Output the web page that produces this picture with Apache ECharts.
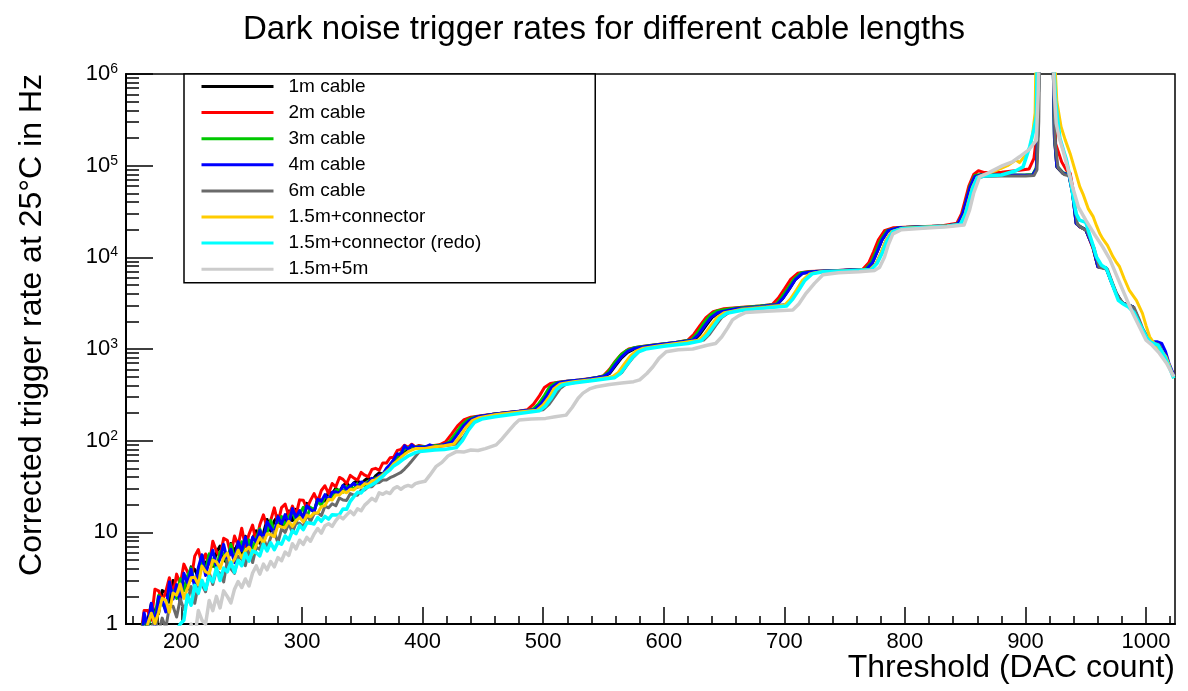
<!DOCTYPE html>
<html>
<head>
<meta charset="utf-8">
<script src="https://cdn.jsdelivr.net/npm/echarts@6/dist/echarts.min.js"></script>
<style>
  html, body { margin: 0; padding: 0; background: #ffffff; }
  #chart { width: 1188px; height: 691px; }
</style>
</head>
<body>
<div id="chart"></div>
<script>
// Dark noise trigger rate vs. threshold, one curve per cable configuration.
const FONT = '"Liberation Sans", Arial, Helvetica, sans-serif';

const seriesNames = ['1m cable', '2m cable', '3m cable', '4m cable', '6m cable',
  '1.5m+connector', '1.5m+connector (redo)', '1.5m+5m'];
const seriesColors = ['#000000', '#ff0000', '#00c800', '#0000ff', '#6a6a6a',
  '#ffcc00', '#00ffff', '#cccccc'];

const chartTitle = 'Dark noise trigger rates for different cable lengths';
const xTitle = 'Threshold (DAC count)';
const yTitle = 'Corrected trigger rate at 25\u00B0C in Hz';

// x tick values
const xMajorTicks = [200, 300, 400, 500, 600, 700, 800, 900, 1000];
const xMinorTicks = [160, 180, 220, 240, 260, 280, 320, 340, 360, 380, 420, 440, 460, 480,
  520, 540, 560, 580, 620, 640, 660, 680, 720, 740, 760, 780, 820, 840, 860, 880,
  920, 940, 960, 980, 1020];
// y minor ticks (2..9 per decade)
const yMinorMultipliers = [2, 3, 4, 5, 6, 7, 8, 9];
const yDecades = [1, 10, 100, 1000, 10000, 100000];

// Noisy low-threshold region, sampled on a common threshold grid
const thresholdLow = [166, 169, 172, 175, 178, 181, 184, 187, 190, 193,
  196, 199, 202, 205, 208, 211, 214, 217, 220, 223,
  226, 229, 232, 235, 238, 241, 244, 247, 250, 253,
  256, 259, 262, 265, 268, 271, 274, 277, 280, 283,
  286, 289, 292, 295, 298, 301, 304, 307, 310, 313,
  316, 319, 322, 325, 328, 331, 334, 337, 340, 343,
  346, 349, 352, 355, 358, 361, 364, 367, 370, 373,
  376, 379, 382, 385, 388, 391, 394, 397];

const rate1mLow = [0.92, 0.79, 1.1, 1.66, 1.3, 1.29, 2.32, 2.2, 1.73, 2.98,
  2.14, 3.06, 2.72, 2.38, 4.2, 3.93, 3.25, 5.62, 4.28, 5.71,
  4.26, 6.06, 7.07, 5.05, 4.62, 7.54, 6.2, 7.75, 5.71, 9.06,
  6.58, 8.6, 10.4, 7.59, 9.78, 13.8, 10.3, 13.3, 15.1, 11.2,
  13.8, 17.1, 13.4, 17.8, 16.0, 14.9, 20.7, 18.0, 16.8, 23.5,
  22.1, 21.9, 27.6, 26.4, 30.3, 27.5, 32.4, 34.6, 30.7, 34.8,
  36.7, 33.5, 37.1, 39.5, 36.7, 41.2, 44.6, 43.2, 48.5, 51.1,
  56.0, 60.0, 68.0, 75.0, 82.0, 86.0, 85.0, 86.0];
const rate2mLow = [0.72, 1.4, 1.4, 1.1, 2.4, 2.3, 1.8, 2.25, 3.2, 2.1,
  3.5, 2.7, 4.5, 3.7, 3.0, 5.5, 6.5, 4.4, 5.8, 4.5,
  8.0, 6.2, 5.4, 8.6, 8.2, 5.7, 9.1, 7.2, 11.1, 7.0,
  9.5, 12.0, 7.8, 12.1, 15.5, 11.3, 13.5, 18.5, 12.6, 18.6,
  20.3, 15.1, 19.3, 15.5, 22.6, 22.4, 18.3, 22.3, 26.4, 21.6,
  28.6, 32.2, 26.6, 34.1, 31.4, 39.7, 37.8, 34.0, 41.8, 39.0,
  37.2, 45.1, 42.0, 40.4, 48.6, 49.9, 47.5, 57.2, 57.0, 65.1,
  66.0, 78.4, 80.0, 89.0, 84.4, 91.5, 85.3, 88.7];
const rate3mLow = [0.79, 1.14, 0.83, 1.44, 1.22, 2.05, 1.68, 1.44, 2.4, 2.29,
  1.9, 3.12, 2.3, 3.36, 4.1, 2.69, 3.6, 4.9, 3.82, 5.82,
  4.72, 3.97, 6.14, 5.81, 4.62, 7.38, 5.26, 6.38, 7.9, 5.25,
  8.26, 6.62, 8.62, 10.9, 7.82, 10.0, 13.5, 10.2, 13.0, 14.9,
  11.7, 14.8, 16.8, 13.1, 15.8, 18.7, 14.6, 18.7, 17.6, 21.5,
  19.8, 24.6, 23.6, 23.1, 29.0, 29.0, 27.4, 31.4, 31.0, 30.0,
  33.6, 32.8, 32.3, 36.1, 36.0, 39.1, 39.2, 43.2, 47.0, 53.0,
  60.0, 67.0, 74.0, 80.0, 84.0, 86.0, 85.0, 87.0];
const rate4mLow = [0.43, 1.32, 0.94, 1.68, 0.95, 1.98, 1.85, 1.35, 2.88, 1.87,
  2.69, 1.68, 3.58, 2.8, 3.95, 2.52, 4.14, 5.68, 3.39, 4.93,
  6.37, 4.22, 5.12, 7.39, 4.9, 6.53, 4.67, 7.9, 6.32, 8.86,
  5.85, 8.83, 7.84, 10.5, 8.28, 13.0, 11.3, 9.66, 14.8, 12.4,
  15.6, 12.1, 18.2, 14.6, 17.3, 14.0, 19.5, 17.8, 16.7, 23.0,
  21.8, 25.8, 22.4, 27.3, 27.7, 26.2, 32.3, 29.6, 31.9, 34.3,
  31.0, 35.4, 34.3, 34.4, 38.9, 37.2, 42.0, 42.4, 50.0, 55.0,
  62.0, 72.0, 70.0, 88.0, 80.0, 90.0, 84.0, 86.0];
const rate6mLow = [0.45, 0.72, 0.52, 0.9, 1.15, 0.81, 1.16, 0.9, 1.56, 1.56,
  1.19, 1.88, 1.44, 1.75, 2.57, 1.68, 2.7, 2.7, 2.25, 3.64,
  2.7, 3.84, 3.57, 2.88, 4.94, 4.0, 3.57, 5.5, 5.06, 4.32,
  6.63, 4.68, 6.9, 6.5, 8.75, 6.75, 8.8, 10.2, 7.65, 10.9,
  10.0, 12.6, 9.9, 12.65, 12.6, 11.3, 15.8, 13.1, 16.0, 16.3,
  15.2, 19.3, 18.5, 20.5, 19.5, 23.7, 22.5, 22.3, 26.5, 25.5,
  25.4, 28.9, 29.0, 31.7, 31.4, 34.5, 35.0, 37.2, 37.2, 39.5,
  41.0, 43.0, 45.0, 49.0, 54.0, 60.0, 67.0, 75.0];
const rateConnLow = [0.82, 0.69, 1.0, 1.31, 1.01, 1.33, 1.91, 1.81, 1.34, 2.18,
  2.06, 2.73, 1.9, 2.45, 3.19, 3.23, 2.68, 4.29, 3.71, 3.53,
  4.96, 4.77, 4.03, 5.31, 5.95, 4.47, 5.11, 6.38, 5.25, 6.31,
  6.92, 5.8, 7.2, 8.82, 7.65, 9.63, 9.45, 8.95, 11.9, 11.4,
  11.3, 13.2, 11.6, 13.4, 14.5, 13.0, 15.3, 14.8, 16.3, 16.3,
  19.1, 19.6, 23.0, 22.5, 25.5, 25.5, 28.0, 27.0, 29.5, 29.0,
  31.5, 31.0, 34.0, 33.5, 36.5, 37.5, 40.0, 42.5, 46.0, 50.0,
  56.0, 60.0, 66.0, 71.0, 76.0, 79.0, 82.0, 82.0];
const rateConnRedoLow = [0.4, 0.45, 0.5, 0.55, 0.6, 0.65, 0.7, 0.8, 0.75, 0.9,
  0.85, 1.0, 1.1, 2.07, 1.6, 2.64, 2.16, 2.99, 2.38, 3.3,
  2.88, 4.08, 2.98, 4.07, 3.71, 4.72, 3.66, 4.95, 4.32, 5.87,
  4.86, 6.27, 6.0, 5.54, 7.39, 6.26, 7.7, 6.48, 7.77, 7.41,
  9.13, 8.28, 10.4, 9.69, 11.9, 10.7, 12.7, 12.6, 12.35, 14.5,
  13.2, 14.9, 13.9, 15.6, 15.5, 15.6, 18.0, 17.9, 21.8, 24.5,
  27.3, 26.9, 30.0, 31.5, 33.0, 35.0, 38.0, 41.0, 45.0, 48.0,
  53.0, 56.0, 60.0, 64.0, 68.0, 71.0, 74.0, 76.0];
const rate15m5mLow = [null, null, null, null, null, null, null, null, null, null,
  null, null, null, 0.5, 1.0, 0.7, 1.4, 1.1, 1.0, 1.8,
  1.4, 2.0, 1.5, 2.3, 2.0, 1.7, 2.4, 2.9, 2.5, 3.1,
  2.6, 3.6, 4.3, 3.5, 4.5, 3.9, 4.8, 4.2, 5.3, 4.9,
  6.1, 5.6, 7.5, 6.6, 8.2, 7.4, 8.8, 8.0, 9.6, 11.0,
  9.8, 11.8, 12.4, 11.6, 13.4, 15.0, 14.0, 15.5, 17.0, 15.6,
  18.0, 17.2, 19.8, 21.5, 23.5, 22.0, 27.0, 26.0, 27.5, 26.5,
  30.0, 31.5, 29.5, 31.5, 32.5, 31.5, 34.0, 35.0];

// Staircase region and the pulse peak, as [threshold, rate] pairs
const rate1mHigh = [[402, 84], [410, 87], [418, 90], [423, 96], [428, 118], [433, 145], [438, 168], [444, 180],
  [460, 195], [480, 208], [492, 218], [497, 250], [502, 310], [506, 380], [511, 420], [520, 440], [535, 460],
  [550, 500], [555, 540], [560, 660], [565, 800], [570, 920], [576, 1010], [590, 1080], [610, 1170], [625, 1250],
  [630, 1450], [635, 1800], [640, 2200], [646, 2500], [660, 2750], [680, 2900], [694, 3050], [699, 3600],
  [704, 4500], [709, 5700], [715, 6700], [725, 7000], [745, 7150], [768, 7400], [773, 8700], [777, 11500],
  [781, 15500], [786, 19500], [795, 21000], [815, 21500], [835, 22000], [845, 23000], [849, 30000], [852, 42000],
  [855, 58000], [859, 74000], [864, 78000], [880, 78000], [900, 78500], [906, 79000], [909, 90000],
  [910.5, 300000], [911.5, 3000000], [922.5, 3000000], [924, 200000], [926, 97000], [931, 82000], [936, 79000],
  [939, 50000], [942, 23500], [945, 21600], [950, 19900], [953, 16000], [956, 13000], [960, 7900], [967, 7600],
  [971, 5500], [975, 4050], [980, 3200], [984, 3030], [989, 2890], [993, 2200], [996, 1740], [1000, 1400],
  [1003, 1200], [1010, 1150], [1015, 824], [1019, 650], [1023, 520]];
const rate2mHigh = [[402, 86], [408, 88], [414, 90], [419, 97], [424, 118], [429, 145], [434, 168], [440, 180],
  [450, 188], [460, 195], [470, 203], [480, 210], [487, 218], [492, 250], [497, 310], [501, 380], [506, 420],
  [515, 440], [530, 460], [545, 490], [550, 510], [555, 600], [560, 740], [565, 880], [571, 1000], [580, 1060],
  [595, 1120], [610, 1180], [620, 1250], [625, 1450], [630, 1800], [635, 2200], [641, 2550], [650, 2750],
  [665, 2850], [680, 2950], [690, 3050], [695, 3600], [700, 4500], [705, 5700], [711, 6700], [720, 7000],
  [740, 7150], [765, 7400], [770, 8700], [774, 11500], [778, 15500], [783, 19500], [790, 21000], [810, 21500],
  [830, 22000], [843, 23500], [847, 30000], [850, 42000], [853, 60000], [857, 80000], [861, 88000], [866, 84000],
  [880, 85000], [895, 89000], [903, 92000], [907, 120000], [909, 200000], [911, 3000000], [923, 3000000],
  [925, 174000], [930, 110000], [934, 89000], [937, 83000], [940, 50000], [942, 24000], [945, 21500],
  [950, 20000], [953, 16000], [956, 12500], [960, 7900], [967, 7600], [971, 5500], [975, 4100], [980, 3200],
  [984, 3000], [989, 2900], [993, 2200], [996, 1750], [1000, 1400], [1003, 1200], [1008, 1150], [1011, 1100],
  [1015, 830], [1019, 650], [1023, 520]];
const rate3mHigh = [[402, 86], [410, 88], [418, 90], [422, 97], [427, 118], [432, 145], [437, 168], [443, 180],
  [460, 195], [480, 208], [491, 218], [496, 250], [501, 310], [505, 380], [510, 425], [520, 445], [535, 465],
  [549, 500], [554, 560], [559, 700], [564, 850], [569, 960], [575, 1030], [590, 1100], [610, 1180], [623, 1260],
  [628, 1500], [633, 1900], [638, 2300], [644, 2600], [655, 2750], [675, 2900], [693, 3050], [698, 3700],
  [703, 4600], [708, 5800], [714, 6800], [725, 7000], [745, 7150], [767, 7400], [772, 8700], [776, 11500],
  [780, 15500], [785, 19500], [795, 21000], [815, 21500], [835, 22000], [844, 23200], [848, 30000], [851, 42000],
  [854, 60000], [858, 78000], [863, 80000], [880, 79000], [900, 79000], [906, 80000], [909, 95000],
  [910.5, 300000], [911.5, 3000000], [922.5, 3000000], [924, 220000], [926, 100000], [931, 84000], [936, 80000],
  [939, 52000], [942, 24000], [945, 21800], [950, 20000], [953, 16500], [956, 13000], [960, 8000], [967, 7600],
  [971, 5600], [975, 4100], [980, 3200], [984, 3050], [989, 2900], [993, 2250], [996, 1750], [1000, 1400],
  [1003, 1210], [1010, 1150], [1015, 830], [1019, 650], [1023, 510]];
const rate4mHigh = [[402, 85], [406, 90], [410, 86], [414, 88], [418, 91], [424, 96], [429, 118], [434, 145],
  [439, 168], [445, 182], [460, 196], [480, 210], [493, 218], [498, 250], [503, 310], [507, 380], [512, 425],
  [520, 445], [535, 465], [550, 500], [555, 550], [560, 680], [565, 820], [570, 940], [576, 1020], [590, 1090],
  [610, 1180], [624, 1250], [629, 1450], [634, 1800], [639, 2200], [645, 2500], [660, 2750], [680, 2900],
  [694, 3050], [699, 3600], [704, 4500], [709, 5700], [715, 6700], [725, 7000], [745, 7200], [768, 7400],
  [773, 8700], [777, 11500], [781, 15500], [786, 19500], [795, 21000], [815, 21500], [835, 22000], [844, 23200],
  [848, 30000], [851, 42000], [854, 58000], [858, 76000], [863, 79000], [880, 79000], [900, 78500], [906, 79000],
  [909, 92000], [910.5, 300000], [911.5, 3000000], [922.5, 3000000], [924, 210000], [926, 98000], [931, 83000],
  [936, 79000], [939, 50000], [942, 23500], [945, 21600], [950, 20000], [953, 16000], [956, 13000], [960, 7900],
  [967, 7600], [971, 5500], [975, 4100], [980, 3200], [984, 3050], [989, 2900], [993, 2200], [996, 1750],
  [1000, 1400], [1003, 1200], [1009, 1200], [1013, 1150], [1016, 950], [1019, 700], [1023, 520]];
const rate6mHigh = [[402, 80], [406, 84], [412, 86], [418, 88], [428, 92], [434, 110], [439, 140], [444, 165],
  [450, 178], [465, 195], [485, 208], [500, 218], [505, 250], [510, 310], [514, 370], [519, 415], [530, 440],
  [545, 465], [560, 500], [565, 550], [570, 680], [575, 820], [580, 950], [586, 1020], [600, 1090], [615, 1170],
  [633, 1250], [638, 1450], [643, 1800], [648, 2200], [654, 2500], [665, 2750], [685, 2900], [702, 3050],
  [707, 3600], [712, 4500], [717, 5700], [723, 6700], [732, 7000], [750, 7200], [771, 7400], [776, 8500],
  [780, 11000], [784, 15000], [789, 19000], [798, 20800], [815, 21500], [835, 22000], [846, 22800], [850, 30000],
  [853, 42000], [856, 58000], [860, 74000], [865, 76000], [880, 77000], [900, 77000], [907, 78000],
  [909.5, 90000], [911, 300000], [912, 3000000], [922.5, 3000000], [924.5, 180000], [927, 95000], [932, 80000],
  [937, 77000], [940, 48000], [943, 23000], [946, 21200], [951, 19500], [954, 15500], [957, 12500], [961, 7800],
  [968, 7400], [972, 5300], [976, 3900], [981, 3150], [985, 3000], [990, 2850], [994, 2150], [997, 1700],
  [1001, 1350], [1004, 1180], [1010, 1130], [1015, 810], [1019, 640], [1023, 510]];
const rateConnHigh = [[402, 82], [410, 86], [418, 88], [426, 92], [431, 112], [436, 140], [441, 165], [447, 178],
  [460, 192], [480, 205], [495, 215], [500, 245], [505, 300], [509, 370], [514, 415], [525, 440], [540, 462],
  [557, 495], [562, 550], [567, 680], [572, 830], [577, 950], [583, 1020], [598, 1090], [615, 1170], [629, 1250],
  [634, 1450], [639, 1800], [644, 2200], [650, 2480], [665, 2700], [685, 2850], [700, 3000], [705, 3500],
  [710, 4400], [715, 5600], [721, 6600], [730, 6950], [750, 7100], [771, 7300], [776, 8500], [780, 11000],
  [784, 15000], [789, 19000], [798, 20800], [815, 21300], [835, 22000], [846, 23000], [850, 30000], [853, 42000],
  [856, 58000], [860, 75000], [866, 80000], [875, 88000], [885, 100000], [892, 115000], [895, 108000],
  [900, 130000], [904, 160000], [906, 227000], [908, 375000], [909, 3000000], [923, 3000000], [926, 500000],
  [929.5, 266000], [933, 190000], [937, 136000], [941, 90000], [945, 59000], [948, 48000], [952, 34000],
  [956, 28000], [959, 22000], [961.5, 18300], [964, 16000], [968, 13500], [972.5, 10200], [975, 9000],
  [978, 7900], [982, 5800], [986, 4400], [992, 3400], [997, 2450], [1000, 1800], [1003, 1360], [1008.5, 1060],
  [1013, 950], [1016.5, 824], [1019, 680], [1023, 480]];
const rateConnRedoHigh = [[402, 77], [410, 79], [418, 80], [428, 84], [433, 100], [438, 130], [443, 158],
  [449, 172], [460, 182], [480, 198], [497, 212], [502, 240], [507, 295], [511, 360], [516, 405], [525, 425],
  [540, 450], [559, 485], [564, 540], [569, 660], [574, 810], [579, 930], [585, 1000], [600, 1070], [620, 1150],
  [631, 1230], [636, 1420], [641, 1750], [646, 2150], [652, 2450], [665, 2650], [685, 2800], [702, 2950],
  [707, 3500], [712, 4400], [717, 5600], [723, 6600], [732, 6950], [750, 7100], [772, 7300], [777, 8600],
  [781, 11000], [785, 15000], [790, 19000], [798, 20500], [815, 21200], [835, 21800], [846, 22800], [850, 29000],
  [853, 40000], [856, 56000], [860, 74000], [866, 77000], [880, 79000], [892, 88000], [898, 97000],
  [903.5, 161000], [907, 250000], [909, 340000], [910, 3000000], [922, 3000000], [925, 500000], [928.5, 200000],
  [932, 140000], [934, 115000], [936.5, 80000], [939, 50000], [942, 30000], [944.8, 25500], [950, 24000],
  [953, 18000], [956, 13500], [958.7, 10200], [963, 8200], [967, 7600], [971, 5500], [977, 3400], [981, 3100],
  [985, 2900], [990, 2500], [996, 1740], [1001, 1300], [1004, 1180], [1010, 1100], [1016, 800], [1020, 600],
  [1023, 480]];
const rate15m5mHigh = [[402, 36], [406, 42], [411, 52], [416, 58], [421, 68], [428, 76], [434, 75], [440, 79],
  [446, 78], [452, 82], [461, 90], [466, 105], [472, 130], [476, 150], [480, 168], [490, 172], [502, 175],
  [510, 182], [519, 190], [524, 230], [529, 290], [533, 330], [539, 370], [544, 387], [555, 410], [565, 425],
  [575, 440], [580, 460], [586, 540], [591, 640], [596, 790], [602, 935], [612, 980], [624, 1000], [636, 1100],
  [643, 1150], [648, 1350], [653, 1700], [657, 2080], [662, 2300], [668, 2500], [685, 2580], [707, 2660],
  [712, 3100], [718, 4050], [725, 5200], [732, 6450], [745, 6800], [762, 6950], [775, 7200], [779, 7800],
  [783, 10000], [786, 13500], [790, 18000], [797, 20000], [815, 20800], [835, 21500], [849, 22500],
  [853.6, 32800], [857, 50000], [862, 76000], [868, 82000], [881, 100000], [889, 110000], [895, 125000],
  [903, 150000], [909, 190000], [910.5, 600000], [911.5, 3000000], [922, 3000000], [924, 600000],
  [925.5, 290000], [928, 200000], [931, 148000], [935, 95000], [939, 59000], [944, 35000], [950, 25500],
  [957, 18000], [964, 13000], [970, 9500], [975, 6600], [982, 4000], [989, 2450], [995, 1700], [1000, 1250],
  [1005, 1100], [1011, 900], [1017, 700], [1023, 500]];

const lowSets = [rate1mLow, rate2mLow, rate3mLow, rate4mLow, rate6mLow, rateConnLow, rateConnRedoLow, rate15m5mLow];
const highSets = [rate1mHigh, rate2mHigh, rate3mHigh, rate4mHigh, rate6mHigh, rateConnHigh, rateConnRedoHigh, rate15m5mHigh];
const lineWidths = [3, 3, 3, 3, 3, 3, 3.5, 3.5];

function buildPoints(low, high) {
  return thresholdLow
    .map((x, i) => [x, low[i]])
    .filter(p => p[1] !== null)
    .concat(high);
}

const yMinorTicks = [];
yDecades.forEach(d => yMinorMultipliers.forEach(m => yMinorTicks.push(Math.log10(m * d))));

const GRID = { left: 126, top: 74, width: 1049, height: 550 };
const X_MIN = 154, X_MAX = 1024;

const chart = echarts.init(document.getElementById('chart'), null, { renderer: 'canvas' });

const series = seriesNames.map((name, k) => ({
  type: 'line',
  name: name,
  data: buildPoints(lowSets[k], highSets[k]),
  xAxisIndex: 0,
  yAxisIndex: 0,
  showSymbol: false,
  symbol: 'none',
  clip: true,
  lineStyle: { color: seriesColors[k], width: lineWidths[k], join: 'round' },
  itemStyle: { color: seriesColors[k] },
  emphasis: { disabled: true },
  z: 2 + k
}));

const option = {
  animation: false,
  backgroundColor: '#ffffff',
  textStyle: { fontFamily: FONT },
  grid: {
    left: GRID.left, top: GRID.top, width: GRID.width, height: GRID.height,
    show: true, borderColor: '#000000', borderWidth: 1.5, backgroundColor: 'transparent',
    containLabel: false, outerBoundsMode: 'none'
  },
  legend: {
    data: seriesNames,
    orient: 'vertical',
    left: 184,
    top: 74,
    itemWidth: 72,
    itemHeight: 18,
    itemGap: 7.1,
    padding: [3, 114, 4, 16],
    backgroundColor: '#ffffff',
    borderColor: '#000000',
    borderWidth: 1.5,
    selectedMode: false,
    itemStyle: { opacity: 0 },
    lineStyle: { width: 3 },
    textStyle: { fontFamily: FONT, fontSize: 19, color: '#000000', lineHeight: 18, padding: [0, 0, 0, 10] },
    z: 20
  },
  xAxis: [
    {
      type: 'value', min: X_MIN, max: X_MAX, position: 'bottom',
      axisLine: { show: true, lineStyle: { color: '#000000', width: 2 } },
      axisTick: { show: true, inside: true, length: 17, customValues: xMajorTicks,
        lineStyle: { color: '#000000', width: 1.5 } },
      axisLabel: { show: true, customValues: xMajorTicks, color: '#000000', fontSize: 22,
        fontFamily: FONT, margin: 7, formatter: v => String(v) },
      splitLine: { show: false }
    },
    {
      type: 'value', min: X_MIN, max: X_MAX, position: 'bottom',
      axisLine: { show: false },
      axisTick: { show: true, inside: true, length: 8, customValues: xMinorTicks,
        lineStyle: { color: '#000000', width: 1.5 } },
      axisLabel: { show: false },
      splitLine: { show: false }
    }
  ],
  yAxis: [
    {
      type: 'log', logBase: 10, min: 1, max: 1000000, splitNumber: 6, position: 'left',
      axisLine: { show: true, lineStyle: { color: '#000000', width: 2 } },
      axisTick: { show: true, inside: true, length: 27, lineStyle: { color: '#000000', width: 1.5 } },
      minorTick: { show: false },
      axisLabel: {
        show: true, color: '#000000', fontSize: 22, fontFamily: FONT, margin: 8,
        showMinLabel: true, showMaxLabel: true,
        formatter: function (v) {
          const e = Math.round(Math.log10(v));
          if (e === 0) return '1';
          if (e === 1) return '10';
          return '10{s|' + e + '}';
        },
        rich: {
          s: { fontSize: 14, fontFamily: FONT, color: '#000000', verticalAlign: 'top', padding: [0, 0, 10, 0] }
        }
      },
      splitLine: { show: false }
    },
    {
      type: 'value', min: 0, max: 6, position: 'left',
      axisLine: { show: false },
      axisTick: { show: true, inside: true, length: 13, customValues: yMinorTicks,
        lineStyle: { color: '#000000', width: 1.5 } },
      axisLabel: { show: false },
      splitLine: { show: false }
    }
  ],
  graphic: [
    {
      type: 'text', x: 604, y: 30, silent: true,
      style: { text: chartTitle, fontFamily: FONT, fontSize: 33, fill: '#000000', align: 'center', verticalAlign: 'middle' }
    },
    {
      type: 'text', x: 1175, y: 668, silent: true,
      style: { text: xTitle, fontFamily: FONT, fontSize: 32, fill: '#000000', align: 'right', verticalAlign: 'middle' }
    },
    {
      type: 'text', x: 32, y: 74, rotation: Math.PI / 2, silent: true,
      style: { text: yTitle, fontFamily: FONT, fontSize: 32, fill: '#000000', align: 'right', verticalAlign: 'middle' }
    }
  ],
  series: series
};

chart.setOption(option);
</script>
</body>
</html>
